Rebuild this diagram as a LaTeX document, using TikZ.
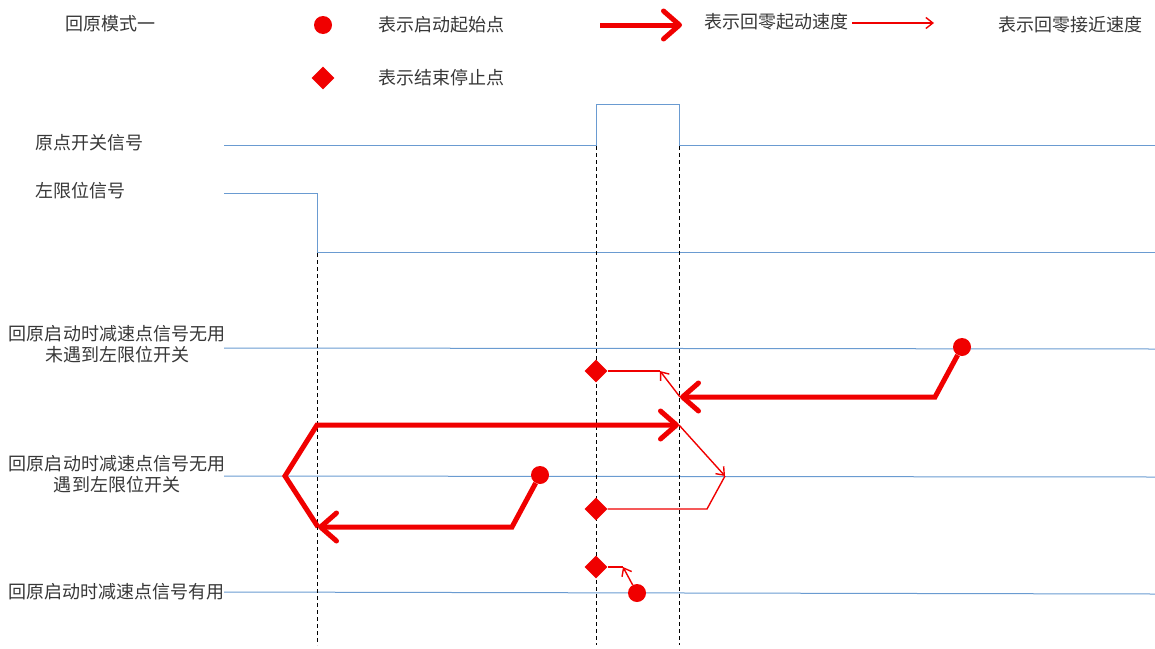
\documentclass[tikz,border=0pt]{standalone}
\usepackage{fontspec}
\newfontfamily\cjk{Noto Sans CJK SC}
\usetikzlibrary{arrows.meta,shapes.geometric}
\definecolor{hred}{RGB}{240,0,0}
\definecolor{sigblue}{RGB}{106,155,209}
\definecolor{txt}{RGB}{55,55,55}
\begin{document}
\begin{tikzpicture}[x=1pt,y=-1pt,
  lbl/.style={font=\cjk\fontsize{18}{21}\selectfont, text=txt, inner sep=0},
  sig/.style={draw=sigblue, line width=1pt},
  guide/.style={draw=black, line width=0.9pt, dash pattern=on 4pt off 3pt},
  fast/.style={draw=hred, line width=5pt, -{Straight Barb[length=16pt,width=28pt,round]}},
  slow/.style={draw=hred, line width=1.4pt, -{Straight Barb[length=7pt,width=11pt]}},
  slowline/.style={draw=hred, line width=1.4pt},
  startpt/.style={circle, fill=hred, minimum size=18pt, inner sep=0},
  stoppt/.style={diamond, fill=hred, minimum size=23pt, inner sep=0},
]
\useasboundingbox (0,0) rectangle (1155,648);

% legend
\node[lbl] (title) at (110,24) {回原模式一};
\node[startpt] (ls) at (323,25) {};
\node[lbl, anchor=west] (t1) at (378,25) {表示启动起始点};
\node[stoppt] (ld) at (323,78) {};
\node[lbl, anchor=west] (t2) at (378,78) {表示结束停止点};
\coordinate (la1) at (600,25);
\coordinate (la2) at (682,25);
\draw[fast] (la1) -- (la2);
\node[lbl, anchor=west] (t3) at (704,22) {表示回零起动速度};
\coordinate (lb1) at (852,23);
\coordinate (lb2) at (934,23);
\draw[slow] (lb1) -- (lb2);
\node[lbl, anchor=west] (t4) at (998,25) {表示回零接近速度};

% signal labels
\node[lbl, anchor=west] (n1) at (35,143) {原点开关信号};
\node[lbl, anchor=west] (n2) at (35,191) {左限位信号};
\node[lbl, align=center] (n3) at (117,344) {回原启动时减速点信号无用\\未遇到左限位开关};
\node[lbl, align=center] (n4) at (117,474) {回原启动时减速点信号无用\\遇到左限位开关};
\node[lbl, anchor=west] (n5) at (8,592) {回原启动时减速点信号有用};

% signal lines
\draw[sig] (224,145) -- (596,145) -- (596,104) -- (679,104) -- (679,145) -- (1155,145);
\draw[sig] (224,193) -- (317,193) -- (317,252) -- (1155,252);
\draw[sig] (224,348) -- (1155,349);
\draw[sig] (224,476) -- (1155,477);
\draw[sig] (224,592) -- (1155,594);

% guides
\draw[guide] (317,253) -- (317,645);
\draw[guide] (596,146) -- (596,645);
\draw[guide] (679,146) -- (679,645);

% row 1
\node[startpt] (s1) at (962,347) {};
\coordinate (a1) at (935,397);
\coordinate (a2) at (680,397);
\coordinate (b1) at (660,371);
\node[stoppt] (d1) at (596,371) {};
\draw[fast] (s1) -- (a1) -- (a2);
\draw[slow] (a2) -- (b1);
\draw[slowline] (b1) -- (d1);

% row 2
\node[startpt] (s2) at (540,475) {};
\coordinate (e1) at (512,527);
\coordinate (e2) at (318,527);
\coordinate (e3) at (285,476);
\coordinate (e4) at (317,425);
\coordinate (e5) at (679,425);
\coordinate (f1) at (725,476);
\coordinate (f2) at (707,509);
\node[stoppt] (d2) at (596,509) {};
\draw[fast] (s2) -- (e1) -- (e2);
\draw[fast] (e2) -- (e3) -- (e4) -- (e5);
\draw[slow] (e5) -- (f1);
\draw[slowline] (f1) -- (f2) -- (d2);

% row 3
\node[startpt] (s3) at (637,593) {};
\coordinate (g1) at (623,567);
\node[stoppt] (d3) at (596,567) {};
\draw[slow] (s3) -- (g1);
\draw[slowline] (g1) -- (d3);
\end{tikzpicture}
\end{document}
